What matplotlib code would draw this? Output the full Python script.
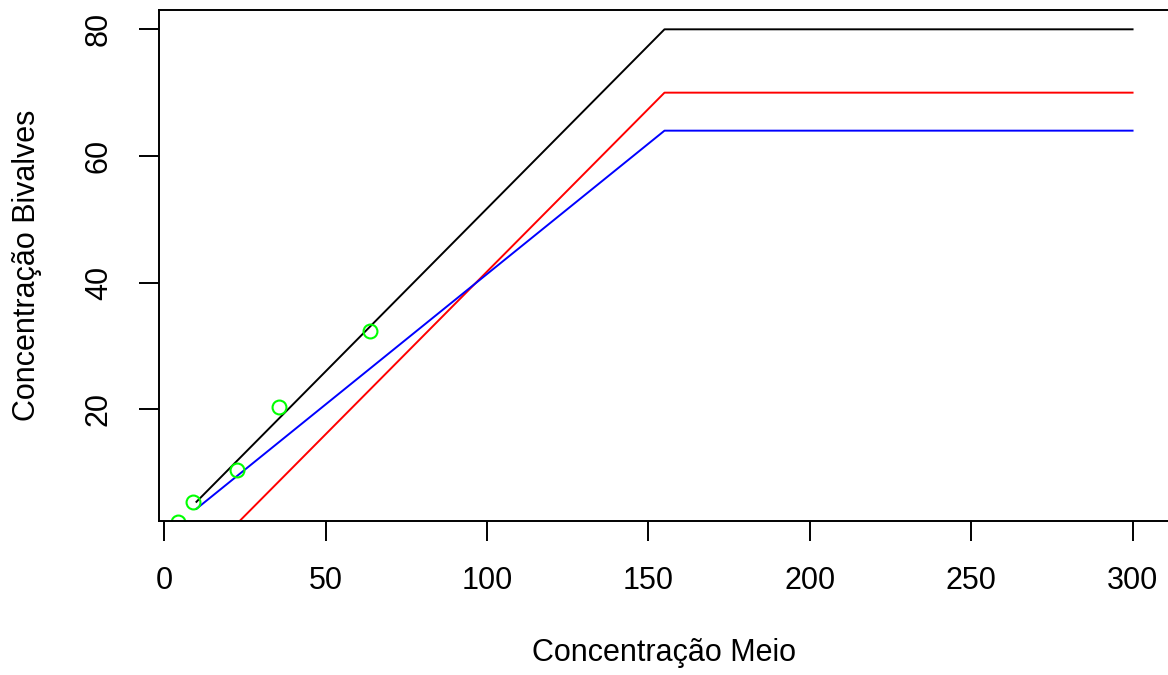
import matplotlib
matplotlib.use("Agg")
import matplotlib.pyplot as plt

plt.rcParams["font.family"] = ["Liberation Sans", "DejaVu Sans"]

# model curves (piecewise linear, saturating at x = 155)
x_line = [10, 155, 300]
y_black = [5.4, 80.0, 80.0]
y_red = [-4.5, 70.0, 70.0]
y_blue = [4.3, 64.0, 64.0]

# observed points
x_obs = [4.3, 9.0, 22.5, 35.6, 63.7]
y_obs = [2.2, 5.3, 10.4, 20.4, 32.4]

x_ticks = [0, 50, 100, 150, 200, 250, 300]
y_ticks = [20, 40, 60, 80]

W, H = 1168, 675
fig = plt.figure(figsize=(W / 100, H / 100), dpi=100)
# box runs past the right edge of the image, as in the reference
left, right, bottom, top = 159, 1170, 154.3, 665
ax = fig.add_axes([left / W, bottom / H, (right - left) / W, (top - bottom) / H])

lw = 1.4
ax.plot(x_line, y_black, color="black", lw=lw)
ax.plot(x_line, y_red, color="#FF0000", lw=lw)
ax.plot(x_line, y_blue, color="#0000FF", lw=lw)
ax.plot(x_obs, y_obs, linestyle="none", marker="o", markersize=10,
        markerfacecolor="none", markeredgecolor="#00FF00", markeredgewidth=1.5)

ax.set_xlim(-1.6, 311.6)
ax.set_ylim(2.42, 83.05)
ax.set_xticks(x_ticks)
ax.set_yticks(y_ticks)
ax.set_yticklabels([str(v) for v in y_ticks], rotation=90, va="center")

for s in ax.spines.values():
    s.set_linewidth(lw)
ax.tick_params(axis="both", length=14.5, width=lw, labelsize=22, direction="out")
ax.tick_params(axis="x", pad=18)
ax.tick_params(axis="y", pad=18)

ax.set_xlabel("Concentração Meio", fontsize=22, va="center")
ax.xaxis.set_label_coords(0.5, -0.26)
ax.set_ylabel("Concentração Bivalves", fontsize=22, va="center")
ax.yaxis.set_label_coords(-0.131, 0.5)

fig.savefig("out.png", dpi=100)
